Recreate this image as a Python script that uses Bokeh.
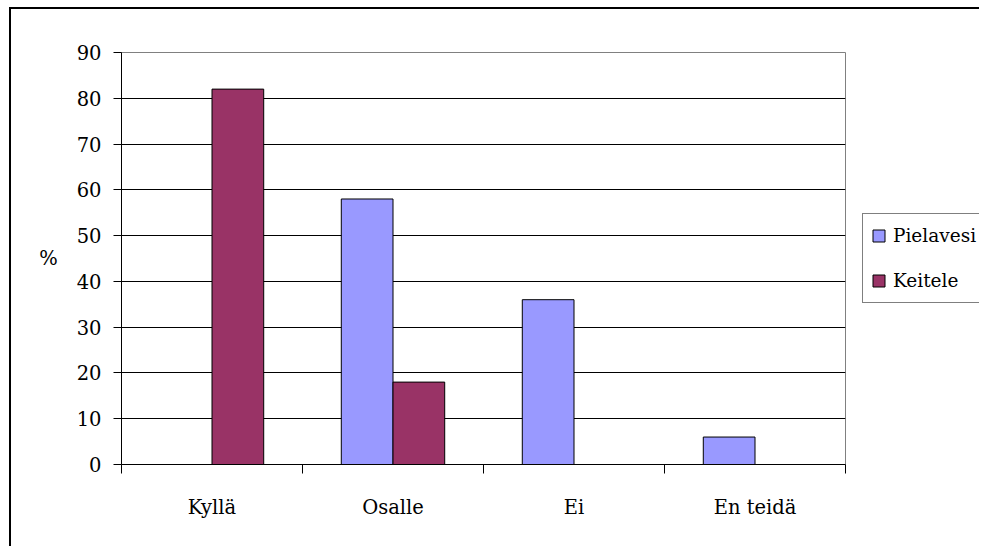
from bokeh.plotting import figure
from bokeh.models import ColumnDataSource, FixedTicker, Legend, LegendItem, Range1d
from bokeh.transform import dodge
from bokeh.embed import file_html
from bokeh.resources import INLINE

categories = ["Kyllä", "Osalle", "Ei", "En teidä"]
pielavesi = [0, 58, 36, 6]
keitele = [82, 18, 0, 0]
y_ticks = [0, 10, 20, 30, 40, 50, 60, 70, 80, 90]
series_names = ["Pielavesi", "Keitele"]
series_colors = ["#9999FF", "#993366"]

FONT = "DejaVu Serif"
FS = "19.5px"
n = len(categories)
centers = [i + 0.5 for i in range(n)]
src = ColumnDataSource(dict(x=centers, pielavesi=pielavesi, keitele=keitele))

p = figure(frame_width=724, frame_height=412, x_range=Range1d(0, n), y_range=Range1d(0, 90),
           output_backend="svg", toolbar_location=None,
           min_border_left=110, min_border_top=43, min_border_right=0, min_border_bottom=82)
p.styles = {"margin-left": "9px", "margin-top": "7px",
            "border-left": "2px solid #000", "border-top": "2px solid #000",
            "max-width": "970px", "overflow": "hidden"}

bw = 0.2857
r1 = p.vbar(x=dodge("x", -bw / 2, range=p.x_range), top="pielavesi", width=bw, source=src,
            fill_color=series_colors[0], line_color="black", line_width=1)
r2 = p.vbar(x=dodge("x", bw / 2, range=p.x_range), top="keitele", width=bw, source=src,
            fill_color=series_colors[1], line_color="black", line_width=1)

p.background_fill_color = "white"
p.border_fill_color = "white"
p.outline_line_color = "#808080"
p.outline_line_width = 1

p.xgrid.visible = False
p.ygrid.ticker = FixedTicker(ticks=y_ticks[1:-1])
p.ygrid.grid_line_color = "black"
p.ygrid.grid_line_width = 1

p.yaxis.ticker = FixedTicker(ticks=y_ticks)
p.yaxis.axis_line_color = "black"
p.yaxis.major_tick_line_color = "black"
p.yaxis.major_tick_out = 8
p.yaxis.major_tick_in = 0
p.yaxis.minor_tick_line_color = None
p.yaxis.major_label_standoff = 12
p.yaxis.major_label_text_font = FONT
p.yaxis.major_label_text_font_size = FS
p.yaxis.major_label_text_color = "black"
p.yaxis.axis_label = "%"
p.yaxis.axis_label_orientation = "horizontal"
p.yaxis.axis_label_text_font = FONT
p.yaxis.axis_label_text_font_size = FS
p.yaxis.axis_label_text_font_style = "normal"
p.yaxis.axis_label_text_color = "black"
p.yaxis.axis_label_standoff = 16

p.xaxis.ticker = FixedTicker(ticks=centers, minor_ticks=list(range(n + 1)))
p.xaxis.major_label_overrides = {c: lab for c, lab in zip(centers, categories)}
p.xaxis.axis_line_color = "black"
p.xaxis.major_tick_line_color = None
p.xaxis.major_tick_out = 0
p.xaxis.major_tick_in = 0
p.xaxis.minor_tick_line_color = "black"
p.xaxis.minor_tick_out = 9
p.xaxis.minor_tick_in = 0
p.xaxis.major_label_standoff = 22
p.xaxis.major_label_text_font = FONT
p.xaxis.major_label_text_font_size = FS
p.xaxis.major_label_text_color = "black"

legend = Legend(items=[LegendItem(label=series_names[0], renderers=[r1]),
                       LegendItem(label=series_names[1], renderers=[r2])],
                location="left")
legend.border_line_color = "black"
legend.border_line_width = 1
legend.background_fill_color = "white"
legend.background_fill_alpha = 1
legend.padding = 8
legend.spacing = 18
legend.margin = 17
legend.glyph_width = 15
legend.glyph_height = 15
legend.label_height = 27
legend.label_standoff = 7
legend.label_text_font = FONT
legend.label_text_font_size = "18.5px"
legend.label_text_color = "black"
p.add_layout(legend, "right")

open("out.html", "w").write(file_html(p, INLINE))
